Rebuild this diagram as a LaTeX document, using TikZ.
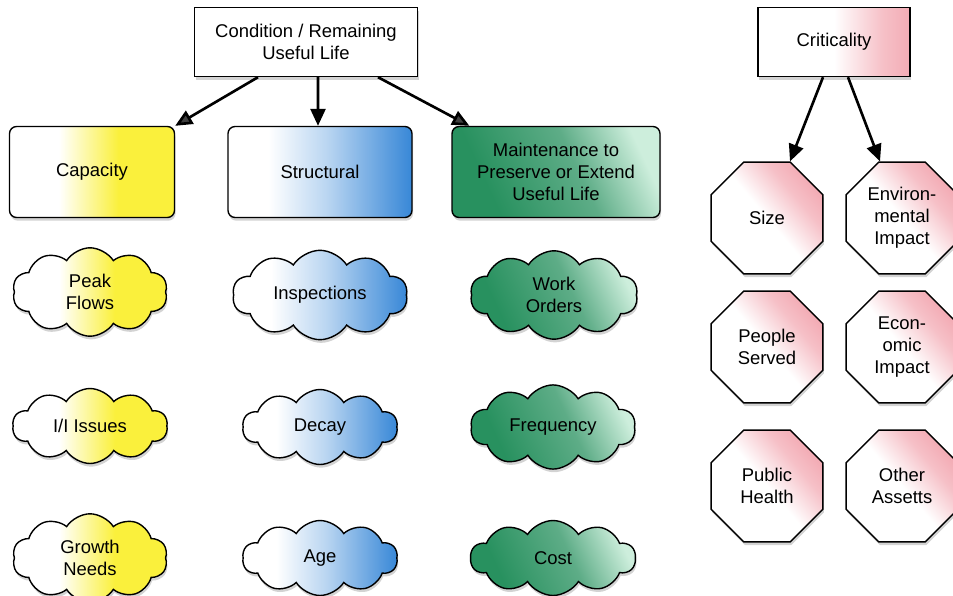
\documentclass[tikz,border=0pt]{standalone}
\usepackage{fontspec}
\setmainfont{Liberation Sans}
\usetikzlibrary{arrows.meta,shapes.geometric,shapes.symbols,shadows}

\definecolor{capyellow}{RGB}{250,240,60}
\definecolor{strblue}{RGB}{55,135,215}
\definecolor{maingreen}{RGB}{40,145,95}
\definecolor{mainlight}{RGB}{205,238,220}
\definecolor{critpink}{RGB}{242,165,175}

% shadings: the path spans 25bp to 75bp
\pgfdeclarehorizontalshading{capshade}{100bp}{color(0bp)=(white); color(25bp)=(white); color(40bp)=(white); color(58bp)=(capyellow); color(100bp)=(capyellow)}
\pgfdeclarehorizontalshading{strshade}{100bp}{color(0bp)=(white); color(25bp)=(white); color(36bp)=(white); color(52bp)=(strblue!35); color(75bp)=(strblue); color(100bp)=(strblue)}
\pgfdeclarehorizontalshading{mainshade}{100bp}{color(0bp)=(maingreen); color(30bp)=(maingreen); color(56bp)=(maingreen!75!white); color(75bp)=(mainlight); color(100bp)=(mainlight)}
\pgfdeclarehorizontalshading{critshade}{100bp}{color(0bp)=(white); color(25bp)=(white); color(50bp)=(white); color(66bp)=(critpink!70); color(78bp)=(critpink); color(100bp)=(critpink)}

\tikzset{
    boxshadow/.style={drop shadow={opacity=0.35,shadow xshift=0.6pt,shadow yshift=-1.8pt}},
    topbox/.style={draw,thick,align=center,minimum width=4.46cm,minimum height=1.38cm,font=\fontsize{10.5}{12.5}\selectfont,boxshadow},
    catbox/.style={draw,thick,rounded corners=4pt,align=center,minimum height=1.82cm,font=\fontsize{10.5}{12.5}\selectfont,boxshadow},
    puff/.style={cloud,draw,thick,cloud puffs=10,cloud puff arc=115,aspect=2.2,align=center,minimum height=1.5cm,font=\fontsize{10.5}{12.5}\selectfont,boxshadow},
    octnode/.style={regular polygon,regular polygon sides=8,draw,thick,minimum size=2.42cm,inner sep=0pt,align=center,font=\fontsize{10.5}{12.5}\selectfont,boxshadow,shading=critshade,shading angle=40},
    arr/.style={line width=1.5pt,-{Triangle[length=3.4mm,width=3mm]}},
    grayarr/.style={line width=1.5pt,-{Triangle[length=3.4mm,width=3mm,fill=darkgray]}},
}

\begin{document}
\begin{tikzpicture}[x=0.02cm,y=-0.02cm]
                \useasboundingbox (0,0) rectangle (953,595);
                % condition / remaining useful life tree
                \node[topbox,fill=white] (cond) at (306,42) {Condition / Remaining\\Useful Life};
                \node[catbox,minimum width=3.3cm,shading=capshade] (cap) at (92,172) {Capacity};
                \node[catbox,minimum width=3.68cm,shading=strshade] (str) at (320,172) {Structural};
                \node[catbox,minimum width=4.16cm,shading=mainshade,shading angle=25] (main) at (556,172) {Maintenance to\\Preserve or Extend\\Useful Life};
                \draw[grayarr] ([xshift=-0.96cm]cond.south) -- (cap.north east);
                \draw[arr] ([xshift=0.24cm]cond.south) -- ([xshift=-0.04cm]str.north);
                \draw[grayarr] ([xshift=1.44cm]cond.south) -- ([xshift=0.36cm]main.north west);
                % clouds
                \node[puff,minimum width=3.1cm,shading=capshade] (peak) at (90,292) {Peak\\Flows};
                \node[puff,minimum width=3.1cm,shading=capshade] (ii) at (90,426) {I/I Issues};
                \node[puff,minimum width=3.1cm,shading=capshade] (growth) at (90,558) {Growth\\Needs};
                \node[puff,minimum width=3.5cm,shading=strshade] (insp) at (320,295) {Inspections};
                \node[puff,minimum width=3.1cm,shading=strshade] (decay) at (320,427) {Decay};
                \node[puff,minimum width=3.1cm,shading=strshade] (age) at (320,558) {Age};
                \node[puff,minimum width=3.35cm,shading=mainshade,shading angle=25] (work) at (554,295) {Work\\Orders};
                \node[puff,minimum width=3.3cm,shading=mainshade,shading angle=25] (freq) at (553,427) {Frequency};
                \node[puff,minimum width=3.3cm,shading=mainshade,shading angle=25] (cost) at (553,558) {Cost};
                % criticality
                \node[topbox,minimum width=3.04cm,shading=critshade] (crit) at (834,42) {Criticality};
                \node[octnode] (size) at (767,218) {Size};
                \node[octnode] (env) at (902,218) {Environ-\\mental\\Impact};
                \node[octnode] (people) at (767,347) {People\\Served};
                \node[octnode] (econ) at (902,347) {Econ-\\omic\\Impact};
                \node[octnode] (health) at (767,486) {Public\\Health};
                \node[octnode] (other) at (902,486) {Other\\Assetts};
                \draw[arr] ([xshift=-0.22cm]crit.south) -- ([xshift=0.46cm]size.north);
                \draw[arr] ([xshift=0.28cm]crit.south) -- ([xshift=-0.44cm]env.north);
\end{tikzpicture}
\end{document}
